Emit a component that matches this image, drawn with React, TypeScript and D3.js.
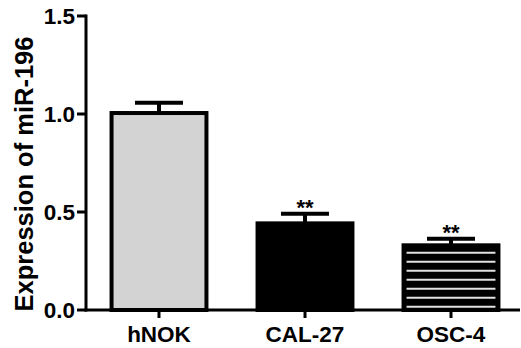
import React from 'react';
import * as d3 from 'd3';

const categories = ['hNOK', 'CAL-27', 'OSC-4'];
const means = [1.005, 0.442, 0.33];
const errors = [0.053, 0.049, 0.034];
const stars = ['', '**', '**'];
const yTicks = [0, 0.5, 1.0, 1.5];

const W = 521;
const H = 348;
const font = "'Liberation Sans', Arial, sans-serif";

export default function App() {
    const x = d3
        .scaleBand<string>()
        .domain(categories)
        .range([86, 524])
        .paddingInner(0.35)
        .paddingOuter(0.175);
    const y = d3.scaleLinear().domain([0, 1.5]).range([310, 16]);
    const bw = x.bandwidth();

    return (
        <div style={{ position: 'absolute', left: 0, top: 0 }}>
            <svg width={W} height={H} style={{ display: 'block', background: '#fff' }}>
                {categories.map((c, i) => {
                    const x0 = x(c)!;
                    const top = y(means[i]);
                    const base = y(0);
                    const fill = i === 0 ? '#d3d3d3' : '#000';
                    const stripes =
                        i === 2 ? d3.range(base - 3.3, top + 5, -9) : [];
                    return (
                        <g key={c}>
                            <rect
                                x={x0}
                                y={top}
                                width={bw}
                                height={base - top}
                                fill={fill}
                                stroke="#000"
                                strokeWidth={4}
                            />
                            {stripes.map((sy, k) => (
                                <line
                                    key={k}
                                    x1={x0 + 3}
                                    x2={x0 + bw - 3}
                                    y1={sy}
                                    y2={sy}
                                    stroke="#e2e2e2"
                                    strokeWidth={2}
                                />
                            ))}
                        </g>
                    );
                })}

                {categories.map((c, i) => {
                    const cx = x(c)! + bw / 2;
                    const top = y(means[i]);
                    const ey = y(means[i] + errors[i]);
                    return (
                        <g key={c} stroke="#000" strokeWidth={4}>
                            <line x1={cx} x2={cx} y1={top} y2={ey} />
                            <line x1={cx - 24} x2={cx + 24} y1={ey} y2={ey} />
                            {stars[i] && (
                                <text
                                    x={cx}
                                    y={ey + 1}
                                    stroke="none"
                                    fill="#000"
                                    textAnchor="middle"
                                    fontFamily={font}
                                    fontWeight="bold"
                                    fontSize={22}
                                >
                                    {stars[i]}
                                </text>
                            )}
                        </g>
                    );
                })}

                {/* y axis */}
                <line x1={86} x2={86} y1={y(1.5) - 1.5} y2={y(0) + 1.5} stroke="#000" strokeWidth={3} />
                {yTicks.map((t) => (
                    <g key={t}>
                        <line x1={77} x2={86} y1={y(t)} y2={y(t)} stroke="#000" strokeWidth={3} />
                        <text
                            x={75}
                            y={y(t)}
                            dy="0.36em"
                            textAnchor="end"
                            fontFamily={font}
                            fontWeight="bold"
                            fontSize={22.5}
                            fill="#000"
                        >
                            {t.toFixed(1)}
                        </text>
                    </g>
                ))}

                {/* x axis */}
                <line x1={84.5} x2={520} y1={y(0)} y2={y(0)} stroke="#000" strokeWidth={3} />
                {categories.map((c) => {
                    const cx = x(c)! + bw / 2;
                    return (
                        <g key={c}>
                            <line x1={cx} x2={cx} y1={y(0)} y2={y(0) + 8} stroke="#000" strokeWidth={3} />
                            <text
                                x={cx}
                                y={341.5}
                                textAnchor="middle"
                                fontFamily={font}
                                fontWeight="bold"
                                fontSize={22.5}
                                fill="#000"
                            >
                                {c}
                            </text>
                        </g>
                    );
                })}

                <text
                    transform="translate(33,174) rotate(-90)"
                    textAnchor="middle"
                    fontFamily={font}
                    fontWeight="bold"
                    fontSize={25.5}
                    fill="#000"
                >
                    Expression of miR-196
                </text>
            </svg>
        </div>
    );
}
